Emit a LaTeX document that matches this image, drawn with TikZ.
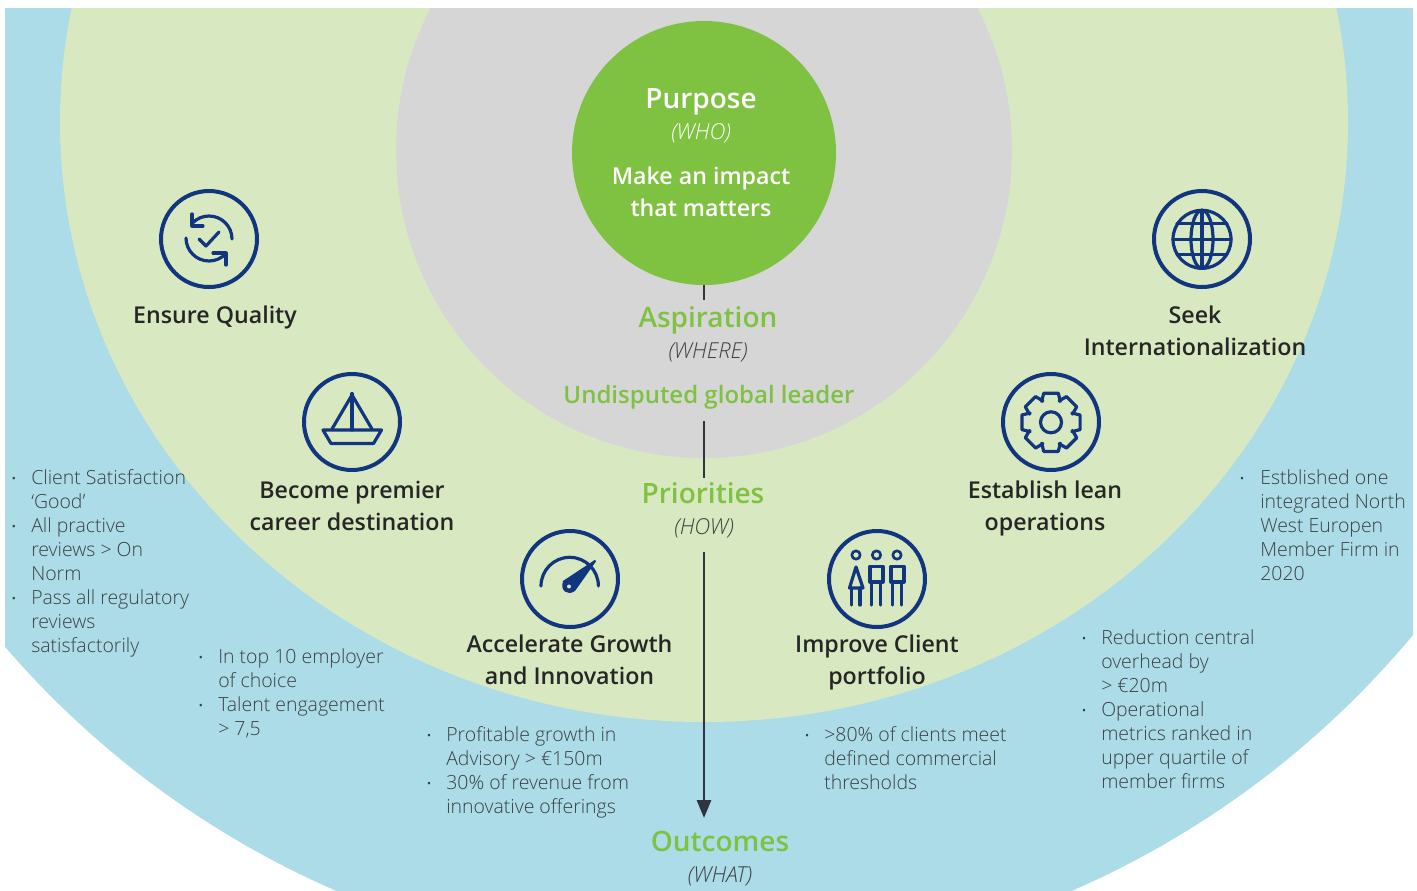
\documentclass[tikz,border=0pt]{standalone}
\usepackage{fontspec}
\setmainfont{Open Sans}
\newfontfamily\lightf{Open Sans Light}[ItalicFont={Open Sans Light Italic}]
\newfontfamily\semif{Open Sans Semibold}
\usetikzlibrary{arrows.meta}
\definecolor{bgblue}{HTML}{ABDCE7}
\definecolor{bggreen}{HTML}{D8E8C1}
\definecolor{bggray}{HTML}{D6D6D6}
\definecolor{leaf}{HTML}{7FC241}
\definecolor{navy}{HTML}{12357F}
\definecolor{inkdark}{HTML}{262626}
\definecolor{inklight}{HTML}{3C4043}
\definecolor{axisc}{HTML}{30343F}
\tikzset{
  body/.style={inner sep=0pt,anchor=north west,align=left,text=inklight,font=\lightf\fontsize{14.6}{18}\selectfont},
  dotm/.style={inner sep=0pt,anchor=base,text=inklight,font=\fontsize{8}{10}\selectfont},
  head/.style={inner sep=0pt,anchor=north,align=center,text=inkdark,font=\semif\fontsize{17.4}{24}\selectfont},
  tier/.style={inner sep=0pt,anchor=base,text=leaf,font=\semif\fontsize{21}{25}\selectfont},
  whq/.style={inner sep=0pt,anchor=base,text=inklight,font=\lightf\itshape\fontsize{16.5}{20}\selectfont},
  ring/.style={draw=navy,line width=3pt},
  ico/.style={draw=navy,line width=2.4pt,line cap=round,line join=round},
  axisl/.style={draw=axisc,line width=2.2pt}
}
\begin{document}
\begin{tikzpicture}[x=0.75pt,y=-0.75pt]
\useasboundingbox (0,0) rectangle (1417,890);
\begin{scope}
\clip (5,8) rectangle (1413,890);
\fill[bgblue] (704,44) circle [radius=923];
\fill[bggreen] (704,122) ellipse [x radius=644,y radius=600];
\fill[bggray] (704,150) circle [radius=308];
\end{scope}
\node[circle,fill=leaf,inner sep=0pt,minimum size=198pt] (purpose) at (704,153) {};
% text in purpose
\node[inner sep=0pt,anchor=base,text=white,font=\semif\fontsize{21}{25}\selectfont] (ptitle) at (701,108) {Purpose};
\node[inner sep=0pt,anchor=base,text=white,font=\lightf\itshape\fontsize{16.5}{20}\selectfont] (pwho) at (701,139) {(WHO)};
\node[inner sep=0pt,anchor=north,align=center,text=white,font=\semif\fontsize{17.4}{24}\selectfont] (pmake) at (701,184-22.4) {\strut Make an impact\\that matters};
% tiers
\node[tier] (asp) at (708,327) {Aspiration};
\node[whq] (aspq) at (708,358) {(WHERE)};
\node[tier,font=\semif\fontsize{18}{22}\selectfont] (und) at (709,403) {Undisputed global leader};
\node[tier] (pri) at (703,503) {Priorities};
\node[whq] (priq) at (704,534) {(HOW)};
\node[tier] (out) at (720,851) {Outcomes};
\node[whq] (outq) at (720,882) {(WHAT)};
% connectors
\coordinate (c1) at (704,300);
\coordinate (c2a) at (704,421);
\coordinate (c2b) at (704,478);
\coordinate (c3a) at (704,552);
\coordinate (c3b) at (704,818);
\draw[axisl] (purpose.south) -- (c1);
\draw[axisl] (c2a) -- (c2b);
\draw[axisl,-{Triangle[length=13.5pt,width=10.5pt]}] (c3a) -- (c3b);
% icon rings
\node[circle,ring,inner sep=0pt,minimum size=72pt] (iq) at (209,239) {};
\node[circle,ring,inner sep=0pt,minimum size=72pt] (ib) at (352,422) {};
\node[circle,ring,inner sep=0pt,minimum size=72pt] (ig) at (570,579) {};
\node[circle,ring,inner sep=0pt,minimum size=72pt] (ic) at (877,579) {};
\node[circle,ring,inner sep=0pt,minimum size=72pt] (ie) at (1051,422) {};
\node[circle,ring,inner sep=0pt,minimum size=72pt] (is) at (1202,239) {};
% quality icon
\begin{scope}[shift={(209,239)}]
\draw[ico] (23,0) arc (0:-135:23);
\draw[ico] (-23,-1) arc (180:42:23);
\draw[ico] (-17,-25) -- (-17,-13) -- (-6,-13);
\draw[ico] (4,14) -- (17,14) -- (17,26);
\draw[ico] (-10,0) -- (-3,7) -- (10,-7);
\end{scope}
% boat icon
\begin{scope}
\draw[ico] (352,393.5) -- (352,430);
\draw[ico] (352,395) -- (332,429);
\draw[ico] (352,395) -- (372,429);
\draw[ico] (323,430) -- (381.5,430) -- (373.5,443.5) -- (331,443.5) -- cycle;
\end{scope}
% gauge icon
\begin{scope}
\draw[ico] (541,586) arc (180:360:28.7);
\fill[navy,draw=navy,line width=1.5pt,line join=round] (595,561) -- (564,581.5) .. controls (561,590) and (568,595) .. (574.5,590) -- cycle;
\fill[bggreen] (569,586.5) circle [radius=2];
\end{scope}
% people icon
\begin{scope}
\draw[ico,line width=2pt] (856,555) circle [radius=4.2];
\draw[ico,line width=2pt] (876.5,555) circle [radius=4.2];
\draw[ico,line width=2pt] (897,555) circle [radius=4.2];
\draw[ico] (856,567) -- (849.5,588) -- (863,588) -- cycle;
\draw[ico] (851.7,588) -- (851.7,605);
\draw[ico] (860,588) -- (860,605);
\draw[ico] (870,566.5) rectangle (883,582);
\draw[ico] (871.7,582) -- (871.7,605);
\draw[ico] (880.7,582) -- (880.7,605);
\draw[ico] (891,566.5) rectangle (904,582);
\draw[ico] (892.7,582) -- (892.7,605);
\draw[ico] (901.7,582) -- (901.7,605);
\end{scope}
% gear icon
\begin{scope}[shift={(1051,422.3)}]
\draw[ico] (-24:23) \foreach \a in {0,45,...,315} { -- (\a-24:23) -- (\a-14:30) -- (\a+14:30) -- (\a+24:23)} -- cycle;
\draw[ico] (0,0) circle [radius=10.5];
\end{scope}
% globe icon
\begin{scope}[shift={(1202,239.3)}]
\draw[ico] (0,0) circle [radius=29];
\draw[ico] (0,0) ellipse [x radius=11,y radius=29];
\draw[ico] (0,-29) -- (0,29);
\draw[ico] (-29,0) -- (29,0);
\draw[ico] (-25,-15.5) -- (25,-15.5);
\draw[ico] (-25,15.5) -- (25,15.5);
\end{scope}
% headings
\node[head] (h1) at (215,323-22.4) {\strut Ensure Quality};
\node[head] (h2) at (352,498-22.4) {\strut Become premier\\career destination};
\node[head] (h3) at (569.5,652-22.4) {\strut Accelerate Growth\\and Innovation};
\node[head] (h4) at (877,652-22.4) {\strut Improve Client\\portfolio};
\node[head] (h5) at (1045,498-22.4) {\strut Establish lean\\operations};
\node[head] (h6) at (1195,323-22.4) {\strut Seek\\Internationalization};
% bullets
\node[dotm] (d1) at (14,482) {•};
\node[body] (b1) at (31,484-16.8) {\strut Client Satisfaction\\‘Good’};
\node[dotm] (d2) at (14,530) {•};
\node[body] (b2) at (31,532-16.8) {\strut All practive\\reviews > On\\Norm};
\node[dotm] (d3) at (14,602) {•};
\node[body] (b3) at (31,604-16.8) {\strut Pass all regulatory\\reviews\\satisfactorily};
\node[dotm] (d4) at (201,661) {•};
\node[body] (b4) at (218,663-16.8) {\strut In top 10 employer\\of choice};
\node[dotm] (d5) at (201,709) {•};
\node[body] (b5) at (218,711-16.8) {\strut Talent engagement\\> 7,5};
\node[dotm] (d6) at (429,739) {•};
\node[body] (b6) at (446,741-16.8) {\strut Profitable growth in\\Advisory > €150m};
\node[dotm] (d7) at (429,787) {•};
\node[body] (b7) at (446,789-16.8) {\strut 30\% of revenue from\\innovative offerings};
\node[dotm] (d8) at (807,739) {•};
\node[body] (b8) at (824,741-16.8) {\strut >80\% of clients meet\\defined commercial\\thresholds};
\node[dotm] (d9) at (1084,642) {•};
\node[body] (b9) at (1101,644-16.8) {\strut Reduction central\\overhead by\\> €20m};
\node[dotm] (d10) at (1084,714) {•};
\node[body] (b10) at (1101,716-16.8) {\strut Operational\\metrics ranked in\\upper quartile of\\member firms};
\node[dotm] (d11) at (1242,482) {•};
\node[body] (b11) at (1260,484-16.8) {\strut Estblished one\\integrated North\\West Europen\\Member Firm in\\2020};
\end{tikzpicture}
\end{document}
